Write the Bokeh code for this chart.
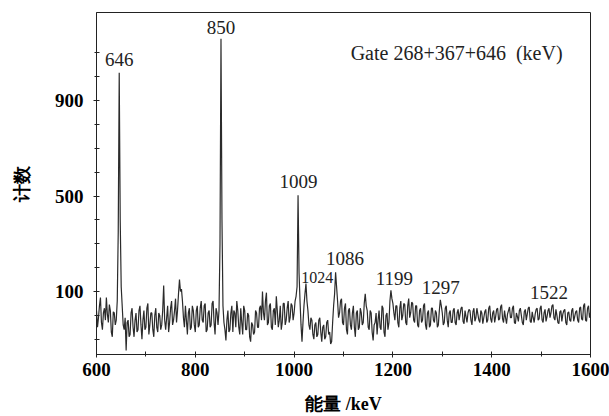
from bokeh.plotting import figure
from bokeh.models import FixedTicker, Label, ColumnDataSource
from bokeh.embed import file_html
from bokeh.resources import INLINE
from bokeh.core.properties import value

# Gated gamma spectrum, 2 keV bins from 600 keV
energy_start = 600
bin_width = 2
counts = [
    20, -50, -10, 40, 75, -30, -60, 10, 30, -20, 75, 5, -30, 45, 20, -70, -90, 15, 10, -40,
    -20, 60, 350, 1017, 400, 120, 40, -40, -60, -10, -147, -30, -20, -90, -80, 10, 30, -50, -90, -20,
    10, -70, -60, 20, 40, -40, -100, -20, 20, -60, -50, 30, 50, -80, -40, 10, 10, -60, -90, 0,
    30, -50, -70, 10, 0, -60, -40, 20, 125, -20, -60, -10, 40, -70, -30, 30, 60, -40, -20, 20,
    70, -30, 20, 90, 150, 100, 110, 60, -10, -50, 40, -20, -80, 10, 30, -60, -50, 40, 20, -40,
    -70, 20, 40, -50, -40, 30, 60, -20, -30, 40, 50, -70, -60, 10, 20, -50, -40, 50, 60, -30,
    -80, 30, 10, -40, 20, 300, 1159, 400, 40, -30, -60, -105, -20, 20, -70, -60, 10, 40, -70, 20,
    10, -50, 60, 20, -50, -80, 30, -30, -80, 40, 20, -60, -60, 10, 0, -90, -110, -30, -40, -80,
    -70, 20, 10, -50, -50, 30, 40, -20, 100, 10, -20, 60, 95, -40, -30, 40, 50, -50, -60, 20,
    30, -40, 80, 20, -50, -20, 40, -60, -30, 50, 50, -40, -20, 30, 60, -30, -10, 50, 40, -20,
    10, 60, 80, 120, 503, 180, 60, -40, -110, -30, 40, 90, 133, 60, 20, -40, -60, -10, -20, -80,
    -100, -40, -30, -90, -80, -20, -10, -70, -110, -50, -40, -100, -90, -30, -20, -80, -70, -120, -110, -30,
    40, 90, 180, 120, 60, -10, 10, 60, 70, -30, -40, 30, 50, -60, -80, 20, 30, -40, -60, 10,
    40, -50, -90, 10, 20, -60, -50, 30, 10, -40, -30, 50, 90, 40, 20, -50, -60, 20, 10, -70,
    -105, -40, -30, 10, -80, -20, 20, -50, -60, 40, 30, -70, -90, 0, 10, -60, -30, 60, 105, 70,
    50, 10, -20, 40, 40, -30, -50, 30, 60, -20, 0, 50, 45, -30, -40, 40, 70, -10, 10, 55,
    50, -20, -30, 40, 40, -40, -50, 20, 30, -30, -20, 40, 50, -40, -60, 10, 20, -50, -40, 30,
    30, -20, -30, 20, 10, -50, -40, 20, 65, 40, 10, -40, -30, 30, 40, -20, -50, 10, 20, -30,
    -30, 20, 30, -30, -40, 10, 25, -20, 5, 30, 35, -25, -35, 20, -5, -30, 10, 25, 20, -20,
    -40, 15, 30, -25, -10, 30, 5, -20, -30, 20, 10, -35, -10, 15, 25, -30, -20, 30, 40, -15,
    -30, 10, 20, -30, -5, 25, 30, -20, -15, 35, 45, -15, -30, 20, -10, -35, 5, 20, 35, -10,
    -10, 30, 40, -30, -35, 10, -5, -25, 20, 30, 0, -30, -40, 15, 25, -20, 5, 30, 35, -25,
    -30, 15, -10, -30, 5, 25, 30, -20, -15, 30, 40, -20, -30, 10, 25, -25, -5, 20, 30, -10,
    10, 40, 45, -10, -20, 25, 0, -30, -35, 15, 20, -25, 5, 20, 25, -30, -40, 10, 15, -20,
    -25, 20, 30, -25, -5, 15, 20, -20, -30, 30, 35, -15, -20, 40, 50, -20, -25, 30, 40, -10,
    10,
]
energies = [energy_start + bin_width * i for i in range(len(counts))]

# Peak annotations
peak_labels = ["646", "850", "1009", "1086", "1199", "1297", "1522"]
peak_label_energy = [646, 852, 1009, 1103, 1203, 1297, 1516]
peak_label_counts = [1072, 1206, 561, 238, 154, 117, 96]
small_label = ["1024"]
small_label_energy = [1047]
small_label_counts = [159]

gate_text = "Gate 268+367+646\u00a0 (keV)"
y_major_ticks = [100, 500, 900]
y_minor_ticks = [-100, 0, 200, 300, 400, 600, 700, 800, 1000, 1100]
x_major_ticks = [600, 800, 1000, 1200, 1400, 1600]
x_minor_ticks = [700, 900, 1100, 1300, 1500]

p = figure(width=609, height=416, x_range=(600, 1600), y_range=(-164, 1269),
           output_backend="svg", toolbar_location=None,
           min_border_left=96, min_border_right=19, min_border_top=12, min_border_bottom=62)
p.background_fill_color = "white"
p.border_fill_color = "white"
p.outline_line_color = "#222222"
p.outline_line_width = 1
p.grid.visible = False

p.line(energies, counts, line_color="#2b2b2b", line_width=1.2)

serif = "Liberation Serif"
p.xaxis.ticker = FixedTicker(ticks=x_major_ticks, minor_ticks=x_minor_ticks)
p.yaxis.ticker = FixedTicker(ticks=y_major_ticks, minor_ticks=y_minor_ticks)
for ax in (p.xaxis[0], p.yaxis[0]):
    ax.axis_line_color = "#222222"
    ax.major_tick_line_color = "#222222"
    ax.minor_tick_line_color = "#222222"
    ax.major_tick_in = 3
    ax.major_tick_out = 3
    ax.minor_tick_in = 3
    ax.minor_tick_out = 2
    ax.major_label_text_font = serif
    ax.major_label_text_font_style = "bold"
    ax.major_label_text_font_size = "19px"
    ax.major_label_text_color = "black"
    ax.axis_label_text_font = serif
    ax.axis_label_text_font_style = "bold"
    ax.axis_label_text_font_size = "18px"
    ax.axis_label_text_color = "black"

p.xaxis.axis_label = "能量 /keV"
p.yaxis.axis_label = "计数"
p.yaxis.major_label_standoff = 10
p.yaxis.axis_label_standoff = 20
p.xaxis.major_label_standoff = 5
p.xaxis.axis_label_standoff = 15

src = ColumnDataSource(dict(x=peak_label_energy, y=peak_label_counts, t=peak_labels))
p.text(x="x", y="y", text="t", source=src, text_font=value(serif), text_font_size="19px",
       text_align="center", text_baseline="middle", text_color="#222222")
src2 = ColumnDataSource(dict(x=small_label_energy, y=small_label_counts, t=small_label))
p.text(x="x", y="y", text="t", source=src2, text_font=value(serif), text_font_size="16px",
       text_align="center", text_baseline="middle", text_color="#222222")

p.add_layout(Label(x=1329, y=1101, text=gate_text, text_font=serif, text_font_size="20px",
                   text_align="center", text_baseline="middle", text_color="#222222"))

open("out.html", "w").write(file_html(p, INLINE))
